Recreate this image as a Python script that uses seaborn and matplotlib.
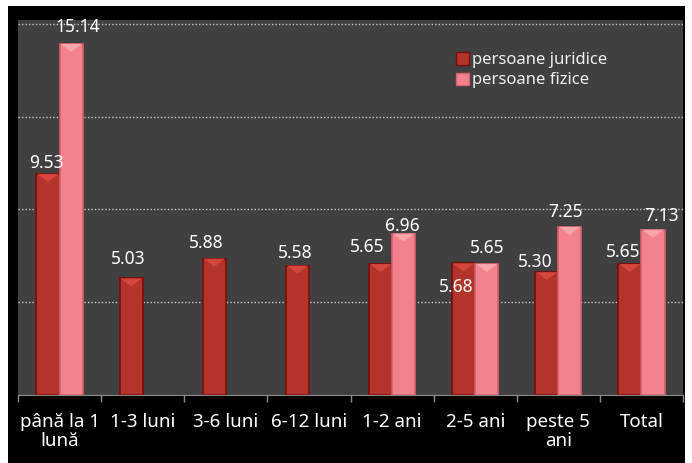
import numpy as np
import pandas as pd
import matplotlib
matplotlib.use("Agg")
import matplotlib.pyplot as plt
import seaborn as sns
from matplotlib.patches import Rectangle, Polygon

categories = ["până la 1\nlună", "1-3 luni", "3-6 luni", "6-12 luni",
              "1-2 ani", "2-5 ani", "peste 5\nani", "Total"]
juridice = [9.53, 5.03, 5.88, 5.58, 5.65, 5.68, 5.30, 5.65]
fizice = [15.14, None, None, None, 6.96, 5.65, 7.25, 7.13]
series_names = ["persoane juridice", "persoane fizice"]

# decalaje etichete (pixeli) - doar pentru asezare
jur_offsets = [(-2, 6), (-2.5, 14), (-8, 11), (-2.5, 8), (-13, 12), (-7, -29), (-12, 5), (-7, 7)]
fiz_offsets = [(7, 12), (-1, 3), (1, 11), (-4, 10), (9, 9)]

rows = []
for cat, j, f in zip(categories, juridice, fizice):
    rows.append({"cat": cat, "serie": series_names[0], "val": j})
    if f is not None:
        rows.append({"cat": cat, "serie": series_names[1], "val": f})
df = pd.DataFrame(rows)

plt.rcParams["font.family"] = ["Noto Sans", "DejaVu Sans"]

fig = plt.figure(figsize=(6.92, 4.63), dpi=100, facecolor="white")
# fundal negru
fig.patches.append(Rectangle((8 / 692, 0), (685 - 8) / 692, 457 / 463,
                             transform=fig.transFigure, facecolor="black",
                             edgecolor="none", zorder=-5))
ax = fig.add_axes([18 / 692, 68 / 463, 665 / 692, 375 / 463])
ax.set_zorder(1)
ax.set_facecolor("#404040")

colors = {"persoane juridice": "#b3342b", "persoane fizice": "#f2838d"}
edges = {"persoane juridice": "#7d0b0b", "persoane fizice": "#d8606c"}

sns.barplot(data=df, x="cat", y="val", hue="serie", order=categories,
            hue_order=series_names, palette=colors, saturation=1, width=0.555, gap=0,
            errorbar=None, ax=ax, legend=False, zorder=3)

ax.set_xlim(-0.5, len(categories) - 0.5)
ax.set_ylim(0, 16.17)

ppu = ax.bbox.height / 16.17
tri_h = 8 / ppu
tops = {"persoane juridice": "#d9493d", "persoane fizice": "#f9a9b0"}
for cont, name, offs in zip(ax.containers, series_names, [jur_offsets, fiz_offsets]):
    for bar, (dx, dy) in zip(cont.patches, offs):
        bar.set_edgecolor(edges[name])
        bar.set_linewidth(1.2)
        x0, w, h = bar.get_x(), bar.get_width(), bar.get_height()
        ax.add_patch(Polygon([(x0 + 0.01, h), (x0 + w - 0.01, h), (x0 + w / 2, h - tri_h)],
                             closed=True, facecolor=tops[name], edgecolor="none",
                             alpha=0.9, zorder=4))
        ax.annotate(f"{h:.2f}", (x0 + w / 2, h), xytext=(dx, dy),
                    textcoords="offset pixels", ha="center", va="baseline",
                    color="white", fontsize=12.5, zorder=5)

# grila punctata
ax.set_yticks([4, 8, 12, 16])
ax.yaxis.grid(True, linestyle=(0, (1, 1.5)), color="#c8c8c8", linewidth=1, zorder=1)
ax.tick_params(axis="y", left=False, labelleft=False)

ax.set_xticks(np.arange(-0.5, len(categories)), minor=True)
ax.tick_params(axis="x", which="major", length=0, pad=13, labelcolor="white", labelsize=13.5)
ax.tick_params(axis="x", which="minor", length=5, color="#8a8a8a", width=1)
for lbl in ax.get_xticklabels():
    lbl.set_linespacing(1.05)
ax.set_xlabel("")
ax.set_ylabel("")

for side in ["top", "right", "left"]:
    ax.spines[side].set_visible(False)
ax.spines["bottom"].set_color("#8a8a8a")
ax.spines["bottom"].set_zorder(6)

handles = [Rectangle((0, 0), 1, 1, facecolor=colors[n], edgecolor=edges[n]) for n in series_names]
leg = ax.legend(handles, series_names, loc="upper left", bbox_to_anchor=(0.659, 0.914),
                frameon=False, fontsize=12, labelcolor="#eeeeee", handlelength=0.75,
                handleheight=0.75, handletextpad=0.2, labelspacing=0.25,
                borderpad=0, borderaxespad=0)

fig.savefig("out.png", dpi=100, facecolor=fig.get_facecolor())
